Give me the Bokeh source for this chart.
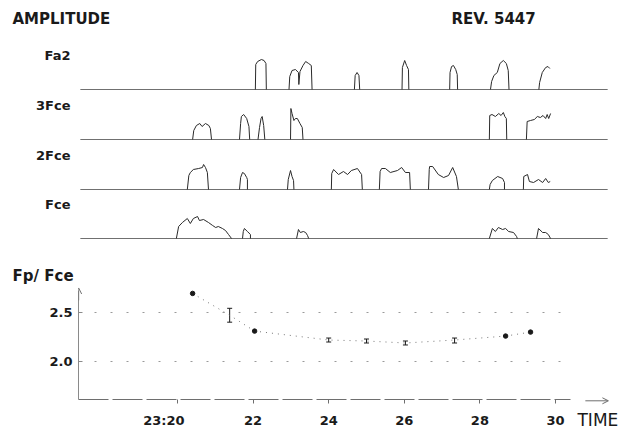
from bokeh.plotting import figure
from bokeh.layouts import column, row
from bokeh.models import (Range1d, FixedTicker, Arrow, OpenHead, Whisker,
                          TeeHead, ColumnDataSource, Label, NumeralTickFormatter)
from bokeh.core.properties import value
from bokeh.embed import file_html
from bokeh.resources import INLINE

# ---- amplitude traces (time in minutes after 23:00, amplitude in arbitrary units) ----
channel_names = ["Fa2", "3Fce", "2Fce", "Fce"]

fa2_pulses = [
    ([22.06, 22.07, 22.12, 22.22, 22.29, 22.34, 22.35], [0, 25, 28, 30, 29, 26, 0]),
    ([22.95, 22.97, 23.03, 23.12, 23.20, 23.21, 23.24, 23.32, 23.39, 23.47, 23.54, 23.56],
     [0, 13, 19, 20, 17, 5, 18, 24, 28, 26, 24, 0]),
    ([24.68, 24.70, 24.75, 24.80, 24.82], [0, 14, 17, 14, 0]),
    ([25.94, 25.95, 26.01, 26.06, 26.11, 26.12], [0, 22, 29, 24, 20, 0]),
    ([27.20, 27.21, 27.25, 27.30, 27.36, 27.40, 27.41], [0, 17, 23, 24, 20, 15, 0]),
    ([28.28, 28.31, 28.37, 28.46, 28.53, 28.62, 28.70, 28.75, 28.77], [0, 8, 14, 17, 26, 29, 26, 19, 0]),
    ([29.56, 29.58, 29.65, 29.74, 29.80, 29.85], [0, 7, 17, 22, 23, 21]),
]

fce3_pulses = [
    ([20.40, 20.43, 20.50, 20.59, 20.65, 20.74, 20.83, 20.87, 20.90], [0, 9, 14, 16, 13, 16, 14, 11, 0]),
    ([21.64, 21.67, 21.69, 21.75, 21.83, 21.89, 21.91], [0, 16, 23, 25, 21, 13, 0]),
    ([22.13, 22.17, 22.21, 22.24, 22.28, 22.31], [0, 12, 21, 23, 14, 0]),
    ([22.99, 23.00, 23.03, 23.08, 23.12, 23.17, 23.24, 23.30, 23.32], [0, 31, 26, 19, 21, 21, 16, 12, 0]),
    ([28.25, 28.26, 28.32, 28.41, 28.50, 28.56, 28.62, 28.66, 28.70, 28.71], [0, 24, 25, 23, 26, 24, 27, 23, 21, 0]),
    ([29.23, 29.25, 29.34, 29.44, 29.52, 29.60, 29.67, 29.74, 29.78, 29.82, 29.87],
     [0, 18, 19, 20, 23, 22, 24, 21, 25, 21, 26]),
]

fce2_pulses = [
    ([20.26, 20.30, 20.34, 20.42, 20.56, 20.66, 20.69, 20.74, 20.79, 20.82], [0, 14, 17, 20, 21, 22, 25, 22, 17, 0]),
    ([21.64, 21.67, 21.72, 21.77, 21.83, 21.85, 21.85], [0, 12, 17, 16, 12, 10, 0]),
    ([22.91, 22.93, 22.99, 23.03, 23.07, 23.08], [0, 10, 19, 13, 9, 0]),
    ([24.07, 24.08, 24.13, 24.26, 24.39, 24.50, 24.60, 24.76, 24.87, 24.89], [0, 16, 20, 15, 18, 15, 19, 21, 15, 0]),
    ([25.34, 25.36, 25.40, 25.50, 25.63, 25.82, 25.93, 26.03, 26.14, 26.16], [0, 18, 21, 21, 17, 19, 22, 17, 17, 0]),
    ([26.64, 26.66, 26.67, 26.75, 26.90, 27.04, 27.17, 27.28, 27.38, 27.43], [0, 20, 23, 23, 15, 12, 14, 22, 13, 0]),
    ([28.25, 28.27, 28.33, 28.47, 28.60, 28.65, 28.65], [0, 5, 9, 13, 11, 7, 0]),
    ([29.15, 29.16, 29.26, 29.31, 29.42, 29.55, 29.66, 29.74, 29.81, 29.86], [0, 13, 15, 8, 7, 10, 7, 11, 7, 8]),
]

fce_pulses = [
    ([19.97, 20.03, 20.13, 20.26, 20.34, 20.42, 20.53, 20.58, 20.69, 20.82, 20.93, 21.01, 21.08, 21.19, 21.27, 21.35, 21.43],
     [0, 12, 16, 20, 15, 20, 22, 18, 19, 16, 13, 11, 12, 10, 8, 4, 0]),
    ([21.72, 21.74, 21.77, 21.85, 21.93, 21.93], [0, 7, 10, 7, 4, 0]),
    ([23.15, 23.20, 23.25, 23.33, 23.39, 23.44, 23.47], [0, 9, 6, 7, 6, 3, 0]),
    ([28.25, 28.33, 28.41, 28.49, 28.60, 28.68, 28.76, 28.89, 28.97, 28.99], [0, 10, 7, 11, 9, 10, 7, 6, 2, 0]),
    ([29.50, 29.55, 29.66, 29.74, 29.81, 29.87], [0, 10, 6, 6, 4, 0]),
]

trace_start, trace_end = 17.43, 31.38

# ---- Fp/Fce ratio ----
ratio_time = [20.40, 21.38, 22.04, 24.00, 25.00, 26.03, 27.33, 28.68, 29.34]
ratio_value = [2.69, 2.47, 2.31, 2.22, 2.21, 2.19, 2.22, 2.26, 2.30]
dot_time = [20.40, 22.04, 28.68, 29.34]
dot_value = [2.69, 2.31, 2.26, 2.30]
bar_time = [21.38, 24.00, 25.00, 26.03, 27.33]
bar_low = [2.40, 2.20, 2.19, 2.17, 2.19]
bar_high = [2.54, 2.24, 2.23, 2.21, 2.24]

time_ticks = [20, 22, 24, 26, 28, 30]
# the first label carries figure spaces so that it sits left of its tick
time_labels = ["23:20\u2007\u2007\u2007", "22", "24", "26", "28", "30"]
ratio_ticks = [2.0, 2.5]

INK = "#1a1a1a"
TRACE = "#2a2a2a"
AXIS_GREY = "#6e6e6e"
FONT = "DejaVu Sans"

# ---------------- upper panel: amplitude strips ----------------
top = figure(width=622, height=285, x_range=Range1d(15.3175, 31.7725),
             y_range=Range1d(-47, 238), output_backend="svg", toolbar_location=None,
             x_axis_location=None, y_axis_location=None, min_border=0,
             outline_line_color=None, background_fill_color="white")
top.grid.visible = False
top.frame_align = False

strip_offset = {"Fa2": 149, "3Fce": 99, "2Fce": 49, "Fce": 0}
channel_pulses = {"Fa2": fa2_pulses, "3Fce": fce3_pulses, "2Fce": fce2_pulses, "Fce": fce_pulses}

for name in channel_names:
    off = strip_offset[name]
    top.line([trace_start, trace_end], [off, off], line_color="#707070", line_width=1)
    xs = [list(t) for t, a in channel_pulses[name]]
    ys = [[v + off for v in a] for t, a in channel_pulses[name]]
    top.multi_line(xs, ys, line_color=TRACE, line_width=1)

top.text(x=[17.17] * 4, y=[strip_offset[n] + 34 for n in channel_names], text=channel_names,
         text_font=value(FONT), text_font_style="bold", text_font_size="13px",
         text_align="right", text_baseline="middle", text_color=INK)

top.add_layout(Label(x=15.635, y=220, text="AMPLITUDE", text_font=FONT, text_font_style="bold",
                     text_font_size="15px", text_baseline="middle", text_color=INK))
top.add_layout(Label(x=27.25, y=220, text="REV. 5447", text_font=FONT, text_font_style="bold",
                     text_font_size="15px", text_baseline="middle", text_color=INK))
top.add_layout(Label(x=17.25, y=-37, text="Fp/ Fce", text_font=FONT, text_font_style="bold",
                     text_font_size="15px", text_align="right", text_baseline="middle", text_color=INK))

# ---------------- lower panel: Fp/Fce ratio ----------------
bot = figure(width=572, height=145, x_range=Range1d(17.381, 30.450), y_range=Range1d(1.62, 2.77),
             output_backend="svg", toolbar_location=None, min_border_left=78, min_border_right=0,
             min_border_top=0, min_border_bottom=30, outline_line_color=None)
bot.frame_align = False
bot.xgrid.visible = False
bot.ygrid.ticker = FixedTicker(ticks=ratio_ticks)
bot.ygrid.grid_line_color = "#9a9a9a"
bot.ygrid.grid_line_dash = "2 14"
bot.ygrid.bounds = (17.4, 29.5)

bot.xaxis.ticker = FixedTicker(ticks=time_ticks)
bot.xaxis.major_label_overrides = dict(zip(time_ticks, time_labels))
bot.xaxis.bounds = (17.381, 30.4)
bot.xaxis.axis_line_color = AXIS_GREY
bot.xaxis.axis_line_dash = "30 4"
bot.xaxis.major_tick_line_color = AXIS_GREY
bot.xaxis.major_tick_out = 4
bot.xaxis.major_tick_in = 0
bot.xaxis.minor_tick_line_color = None
bot.xaxis.major_label_standoff = 9

bot.yaxis.ticker = FixedTicker(ticks=ratio_ticks)
bot.yaxis.formatter = NumeralTickFormatter(format="0.0")
bot.yaxis.bounds = (1.62, 2.72)
bot.yaxis.axis_line_color = "#8a8a8a"
bot.yaxis.major_tick_line_color = "#8a8a8a"
bot.yaxis.major_tick_out = 0
bot.yaxis.major_tick_in = 4
bot.yaxis.minor_tick_line_color = None
bot.yaxis.major_label_standoff = 6

for ax in (bot.xaxis, bot.yaxis):
    ax.major_label_text_font = FONT
    ax.major_label_text_font_style = "bold"
    ax.major_label_text_font_size = "13px"
    ax.major_label_text_color = INK

bot.add_layout(Arrow(x_start=17.385, y_start=2.62, x_end=17.385, y_end=2.745,
                     line_color=AXIS_GREY, line_width=1,
                     end=OpenHead(size=6, line_color=AXIS_GREY, line_width=1)))

bot.line(ratio_time, ratio_value, line_color="#777777", line_width=1, line_dash="1 5")
bot.scatter(dot_time, dot_value, size=4.5, color=INK)
bars = ColumnDataSource(dict(t=bar_time, lo=bar_low, hi=bar_high))
bot.add_layout(Whisker(source=bars, base="t", lower="lo", upper="hi", line_color=INK, line_width=1,
                       lower_head=TeeHead(size=5, line_color=INK), upper_head=TeeHead(size=5, line_color=INK)))

# ---------------- time-axis arrow and its caption ----------------
tail = figure(width=50, height=145, x_range=Range1d(30.450, 31.773), y_range=Range1d(1.32, 2.77),
              output_backend="svg", toolbar_location=None, x_axis_location=None,
              y_axis_location=None, min_border=0, outline_line_color=None)
tail.frame_align = False
tail.grid.visible = False
tail.add_layout(Arrow(x_start=30.79, y_start=1.617, x_end=31.40, y_end=1.617,
                      line_color=AXIS_GREY, line_width=1,
                      end=OpenHead(size=6, line_color=AXIS_GREY, line_width=1)))
tail.add_layout(Label(x=30.582, y=1.43, text="TIME", text_font=FONT, text_font_size="17px",
                      text_baseline="middle", text_color=INK))

page = column(top, row(bot, tail))
open("out.html", "w").write(file_html(page, INLINE))
